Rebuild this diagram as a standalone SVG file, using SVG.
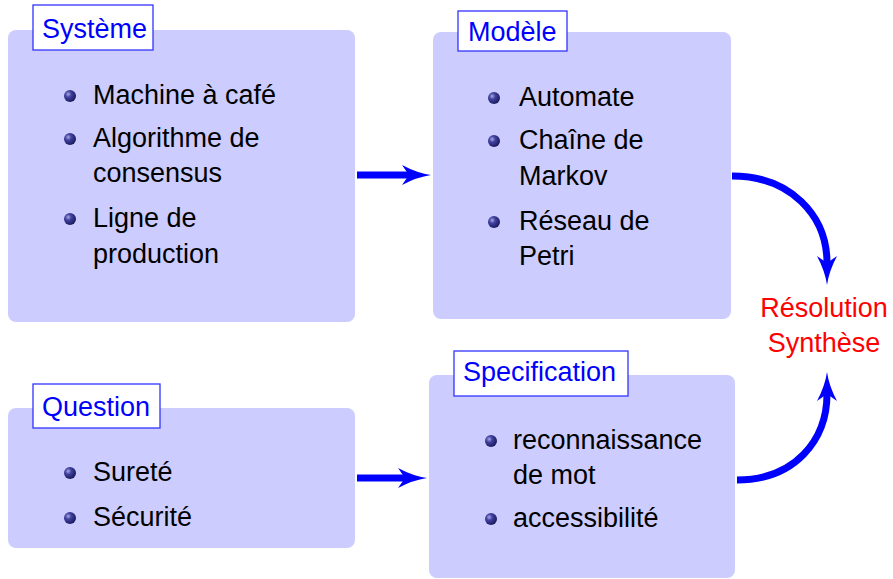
<svg xmlns="http://www.w3.org/2000/svg" width="893" height="579" viewBox="0 0 893 579">
<style>
.box{fill:#ccccff;}
.lbl{fill:#ffffff;stroke:#3333ff;stroke-width:1.3;}
.lt{font-family:"Liberation Sans",Arial,sans-serif;font-size:27px;fill:#0000ff;}
.it{font-family:"Liberation Sans",Arial,sans-serif;font-size:27px;fill:#000000;}
.res{font-family:"Liberation Sans",Arial,sans-serif;font-size:27px;fill:#ff0000;text-anchor:middle;}
.arr{fill:none;stroke:#0000ff;stroke-width:7;}
.bul{fill:url(#sph);}
</style>
<defs>
<radialGradient id="sph" cx="0.35" cy="0.35" r="0.75">
<stop offset="0" stop-color="#a8a8e0"/>
<stop offset="0.35" stop-color="#4040a0"/>
<stop offset="1" stop-color="#141450"/>
</radialGradient>
<marker id="ah" markerUnits="userSpaceOnUse" viewBox="-8 -12 32 24" refX="0" refY="0" markerWidth="32" markerHeight="24" orient="auto">
<path d="M22,0 Q8,2 -7,10 L0,0 L-7,-10 Q8,-2 22,0 Z" fill="#0000ff"/>
</marker>
</defs>

<g id="connectors">
<path class="arr" d="M357,175 L409,175" marker-end="url(#ah)"/>
<path class="arr" d="M357,478 L405,478" marker-end="url(#ah)"/>
<path class="arr" d="M732,176 C790,176 827,215 827,263" marker-end="url(#ah)"/>
<path class="arr" d="M737,480 C795,480 827,440 827,394" marker-end="url(#ah)"/>
</g>

<g id="systeme">
<rect class="box" x="8" y="30" width="347" height="292" rx="8"/>
<rect class="lbl" x="33" y="5" width="120" height="45"/>
<text class="lt" x="42" y="38">Système</text>
<circle class="bul" cx="70" cy="96" r="6"/>
<text class="it" x="93" y="104">Machine à café</text>
<circle class="bul" cx="70" cy="139" r="6"/>
<text class="it" x="93" y="147">Algorithme de</text>
<text class="it" x="93" y="182">consensus</text>
<circle class="bul" cx="70" cy="219" r="6"/>
<text class="it" x="93" y="227">Ligne de</text>
<text class="it" x="93" y="263">production</text>
</g>

<g id="modele">
<rect class="box" x="433" y="32" width="298" height="287" rx="8"/>
<rect class="lbl" x="458" y="11" width="109" height="40"/>
<text class="lt" x="468" y="41">Modèle</text>
<circle class="bul" cx="494" cy="98" r="6"/>
<text class="it" x="519" y="106">Automate</text>
<circle class="bul" cx="494" cy="141" r="6"/>
<text class="it" x="519" y="149">Chaîne de</text>
<text class="it" x="519" y="185">Markov</text>
<circle class="bul" cx="494" cy="222" r="6"/>
<text class="it" x="519" y="230">Réseau de</text>
<text class="it" x="519" y="265">Petri</text>
</g>

<g id="question">
<rect class="box" x="8" y="408" width="347" height="140" rx="8"/>
<rect class="lbl" x="33" y="384" width="127" height="44"/>
<text class="lt" x="42" y="416">Question</text>
<circle class="bul" cx="70" cy="473" r="6"/>
<text class="it" x="93" y="481">Sureté</text>
<circle class="bul" cx="70" cy="518" r="6"/>
<text class="it" x="93" y="526">Sécurité</text>
</g>

<g id="specification">
<rect class="box" x="429" y="375" width="306" height="203" rx="8"/>
<rect class="lbl" x="454" y="351" width="174" height="45"/>
<text class="lt" x="463" y="381">Specification</text>
<circle class="bul" cx="491" cy="441" r="6"/>
<text class="it" x="513" y="449">reconnaissance</text>
<text class="it" x="513" y="484">de mot</text>
<circle class="bul" cx="491" cy="519" r="6"/>
<text class="it" x="513" y="527">accessibilité</text>
</g>

<g id="resolution">
<text class="res" x="824" y="317">Résolution</text>
<text class="res" x="824" y="352">Synthèse</text>
</g>
</svg>
